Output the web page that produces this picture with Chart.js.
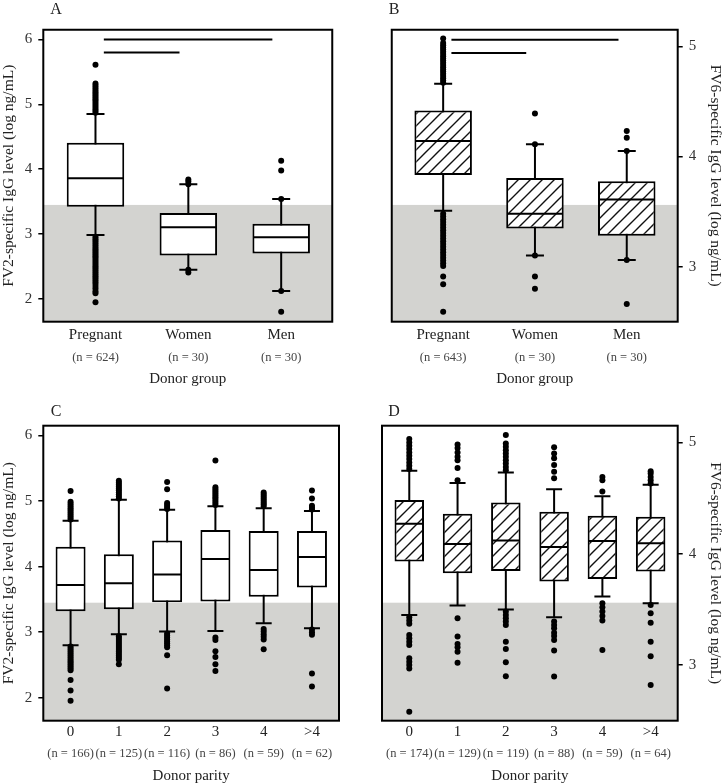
<!DOCTYPE html>
<html>
<head>
<meta charset="utf-8">
<script src="https://cdn.jsdelivr.net/npm/chart.js@4.4.1/dist/chart.umd.min.js"></script>
<style>
  body { margin: 0; background: #fff; }
  #wrap { position: relative; width: 724px; height: 784px; }
  canvas { position: absolute; }
</style>
</head>
<body>
<div id="wrap">
  <canvas id="panelA" width="362" height="392" style="left:0;top:0"></canvas>
  <canvas id="panelB" width="362" height="392" style="left:362px;top:0"></canvas>
  <canvas id="panelC" width="362" height="385" style="left:0;top:399px"></canvas>
  <canvas id="panelD" width="362" height="385" style="left:362px;top:399px"></canvas>
</div>
<script>
// categories and tick labels
const donorGroups = ['Pregnant', 'Women', 'Men'];
const fv2GroupN = ['(n = 624)', '(n = 30)', '(n = 30)'];
const fv6GroupN = ['(n = 643)', '(n = 30)', '(n = 30)'];
const parityGroups = ['0', '1', '2', '3', '4', '>4'];
const fv2ParityN = ['(n = 166)', '(n = 125)', '(n = 116)', '(n = 86)', '(n = 59)', '(n = 62)'];
const fv6ParityN = ['(n = 174)', '(n = 129)', '(n = 119)', '(n = 88)', '(n = 59)', '(n = 64)'];
const fv2Ticks = [2, 3, 4, 5, 6];
const fv6Ticks = [3, 4, 5];

// positivity cut-offs (grey area below)
const fv2Cutoff = 3.45;
const fv6Cutoff = 3.56;

// box stats: [lower whisker, q1, median, q3, upper whisker]
const fv2GroupBoxes = [
  [2.985, 3.42, 3.86, 4.41, 4.85],
  [2.45, 2.67, 3.107, 3.325, 3.77],
  [2.125, 2.70, 2.95, 3.16, 3.54]
];
const fv6GroupBoxes = [
  [3.506, 3.832, 4.14, 4.416, 4.66],
  [3.10, 3.346, 3.48, 3.805, 4.11],
  [3.06, 3.28, 3.61, 3.775, 4.05]
];
const fv2ParityBoxes = [
  [2.80, 3.32, 3.72, 4.305, 4.70],
  [2.97, 3.35, 3.745, 4.19, 5.02],
  [3.01, 3.456, 3.88, 4.40, 4.866],
  [3.02, 3.47, 4.117, 4.56, 4.92],
  [3.136, 3.54, 3.95, 4.545, 4.89],
  [3.06, 3.68, 4.148, 4.545, 4.85]
];
const fv6ParityBoxes = [
  [3.45, 3.93, 4.27, 4.483, 4.746],
  [3.535, 3.825, 4.088, 4.36, 4.636],
  [3.50, 3.845, 4.118, 4.46, 4.73],
  [3.43, 3.75, 4.06, 4.378, 4.58],
  [3.615, 3.774, 4.115, 4.34, 4.516],
  [3.556, 3.84, 4.094, 4.333, 4.62]
];

// outlying points per box
const fv2GroupOutliers = [
  [5.61, 5.32, 5.29, 5.26, 5.23, 5.2, 5.17, 5.14, 5.11, 5.08, 5.05, 5.02, 4.99, 4.96, 4.93, 4.9, 4.87,
   2.96, 2.93, 2.9, 2.87, 2.84, 2.81, 2.78, 2.75, 2.72, 2.69, 2.66, 2.63, 2.6, 2.57, 2.54, 2.51, 2.48,
   2.45, 2.42, 2.39, 2.36, 2.33, 2.3, 2.27, 2.24, 2.2, 2.16, 2.12, 2.09, 1.95],
  [3.84, 3.81, 3.77, 2.45, 2.41],
  [4.13, 3.98, 3.54, 2.125, 1.805]
];
const fv6GroupOutliers = [
  [5.07, 5.03, 5.01, 4.99, 4.97, 4.95, 4.93, 4.91, 4.89, 4.87, 4.85, 4.83, 4.81, 4.79, 4.77, 4.75, 4.73,
   4.71, 4.69, 4.67, 3.48, 3.455, 3.43, 3.405, 3.38, 3.355, 3.33, 3.305, 3.28, 3.255, 3.23, 3.205, 3.18,
   3.155, 3.13, 3.105, 3.08, 3.055, 3.03, 3.005, 2.91, 2.84, 2.59],
  [4.39, 4.11, 3.10, 2.91, 2.80],
  [4.23, 4.17, 4.05, 3.06, 2.66]
];
const fv2ParityOutliers = [
  [5.155, 4.99, 4.96, 4.93, 4.9, 4.87, 4.84, 4.81, 4.78, 4.75, 4.72, 2.78, 2.75, 2.72, 2.69, 2.66, 2.63,
   2.6, 2.57, 2.54, 2.51, 2.48, 2.45, 2.42, 2.27, 2.11, 1.955],
  [5.31, 5.28, 5.25, 5.22, 5.19, 5.16, 5.13, 5.1, 5.07, 5.04, 2.94, 2.91, 2.88, 2.85, 2.82, 2.79, 2.76,
   2.73, 2.7, 2.67, 2.64, 2.61, 2.58, 2.51],
  [5.29, 5.18, 4.97, 4.94, 4.91, 4.88, 2.98, 2.95, 2.92, 2.89, 2.86, 2.83, 2.8, 2.77, 2.65, 2.14],
  [5.62, 5.21, 5.18, 5.15, 5.12, 5.09, 5.06, 5.03, 5.0, 4.97, 4.94, 2.92, 2.88, 2.71, 2.62, 2.51, 2.41],
  [5.13, 5.1, 5.07, 5.04, 5.01, 4.98, 4.95, 4.92, 3.05, 3.01, 2.97, 2.93, 2.89, 2.74],
  [5.16, 5.04, 4.93, 4.9, 4.87, 3.04, 3.0, 2.96, 2.37, 2.17]
];
const fv6ParityOutliers = [
  [5.03, 5.0, 4.97, 4.94, 4.91, 4.88, 4.85, 4.82, 4.79, 4.76, 3.43, 3.4, 3.37, 3.27, 3.24, 3.21, 3.18,
   3.06, 3.03, 3.0, 2.97, 2.58],
  [4.98, 4.95, 4.91, 4.87, 4.84, 4.77, 4.66, 3.42, 3.256, 3.19, 3.16, 3.12, 3.02],
  [5.066, 4.99, 4.96, 4.93, 4.9, 4.87, 4.84, 4.81, 4.78, 4.75, 3.48, 3.45, 3.42, 3.39, 3.36, 3.21,
   3.145, 3.026, 2.9],
  [4.956, 4.9, 4.857, 4.797, 4.737, 4.677, 3.39, 3.36, 3.33, 3.29, 3.26, 3.226, 3.13, 2.897],
  [4.69, 4.66, 4.56, 3.556, 3.52, 3.48, 3.44, 3.4, 3.136],
  [4.74, 4.72, 4.69, 4.66, 4.63, 3.54, 3.466, 3.38, 3.21, 3.08, 2.82]
];

// significance bars: [from category, to category, level]
const fv2GroupSig = [[0.09, 1.905, 6.0], [0.09, 0.905, 5.8]];
const fv6GroupSig = [[0.09, 1.91, 5.06], [0.09, 0.905, 4.94]];

const FONT = "'Liberation Serif', 'DejaVu Serif', serif";
Chart.defaults.font.family = FONT;
Chart.defaults.color = '#333';

function makeHatch() {
  const c = document.createElement('canvas');
  c.width = 12; c.height = 12;
  const g = c.getContext('2d');
  g.fillStyle = '#fff';
  g.fillRect(0, 0, 12, 12);
  g.strokeStyle = '#111';
  g.lineWidth = 1.4;
  g.beginPath();
  g.moveTo(-1, 13); g.lineTo(13, -1);
  g.moveTo(-1, 1); g.lineTo(1, -1);
  g.moveTo(11, 13); g.lineTo(13, 11);
  g.stroke();
  return g.createPattern(c, 'repeat');
}

const panelDecor = {
  id: 'panelDecor',
  beforeDatasetsDraw(chart, args, opts) {
    const { ctx, chartArea: a } = chart;
    const yc = chart.scales.y.getPixelForValue(opts.cutoff);
    ctx.save();
    ctx.fillStyle = '#d3d3d0';
    ctx.fillRect(a.left, yc, a.right - a.left, a.bottom - yc);
    ctx.restore();
  },
  afterDraw(chart, args, opts) {
    const { ctx, chartArea: a } = chart;
    ctx.save();
    ctx.strokeStyle = '#000';
    ctx.lineWidth = 2;
    ctx.strokeRect(a.left, a.top, a.right - a.left, a.bottom - a.top);
    ctx.fillStyle = '#222';
    ctx.font = '16px ' + FONT;
    ctx.textAlign = 'center';
    ctx.textBaseline = 'middle';
    ctx.fillText(opts.letter, opts.letterX, opts.letterY);
    ctx.restore();
  }
};

function buildPanel(p) {
  const whiskers = [], boxes = [], medians = [], caps = [], dots = [];
  p.boxes.forEach((b, i) => {
    whiskers.push({ x: i, y: b[0] }, { x: i, y: b[4] }, { x: i, y: null });
    boxes.push({ x: i, y: [b[1], b[3]] });
    medians.push({ x: i, y: b[2] });
    caps.push({ x: i, y: b[0] }, { x: i, y: b[4] });
    p.outliers[i].forEach(v => dots.push({ x: i, y: v }));
  });

  const datasets = [
    { type: 'line', data: whiskers, borderColor: '#000', borderWidth: 2, pointRadius: 0, spanGaps: false, order: 6 },
    { type: 'bar', data: boxes, backgroundColor: p.hatched ? makeHatch() : '#fff', borderColor: '#000',
      borderWidth: 2, borderSkipped: false, barThickness: p.boxWidth, inflateAmount: 0, order: 5 },
    { type: 'scatter', data: medians, pointStyle: 'line', pointRadius: p.boxWidth / 2 - 1,
      pointBorderColor: '#000', pointBorderWidth: 2, order: 4 },
    { type: 'scatter', data: caps, pointStyle: 'line', pointRadius: p.capR,
      pointBorderColor: '#000', pointBorderWidth: 2, order: 3 },
    { type: 'scatter', data: dots, pointRadius: 3, pointBackgroundColor: '#000', pointBorderWidth: 0, order: 2 }
  ];
  (p.sig || []).forEach(s => {
    datasets.push({ type: 'line', data: [{ x: s[0], y: s[2] }, { x: s[1], y: s[2] }],
      borderColor: '#000', borderWidth: 2, pointRadius: 0, order: 1 });
  });

  const catTicks = (scale) => { scale.ticks = p.labels.map((_, i) => ({ value: i })); };

  new Chart(document.getElementById(p.canvas), {
    type: 'bar',
    data: { datasets: datasets },
    plugins: [panelDecor],
    options: {
      responsive: false,
      animation: false,
      events: [],
      layout: { padding: p.pad },
      plugins: {
        legend: { display: false },
        tooltip: { enabled: false },
        panelDecor: { cutoff: p.cutoff, letter: p.letter, letterX: p.letterX, letterY: p.letterY }
      },
      scales: {
        x: {
          type: 'linear', min: p.xMin, max: p.xMax, offset: false,
          grid: { display: false, drawTicks: false, tickLength: 0 }, border: { display: false },
          afterBuildTicks: catTicks,
          afterFit: (s) => { s.height = 22; },
          ticks: { autoSkip: false, maxRotation: 0, padding: p.labelPad, color: '#222',
            font: { size: 15 }, callback: (v) => p.labels[v] }
        },
        x2: {
          type: 'linear', position: 'bottom', weight: 1, min: p.xMin, max: p.xMax, offset: false,
          grid: { display: false, drawTicks: false, tickLength: 0 }, border: { display: false },
          afterBuildTicks: catTicks,
          afterFit: (s) => { s.height = p.x2H; },
          ticks: { autoSkip: false, maxRotation: 0, padding: p.nPad, color: '#444',
            font: { size: 12.5 }, callback: (v) => p.nLabels[v] },
          title: { display: true, text: p.xTitle, color: '#222', padding: 0,
            font: { size: 15, lineHeight: 1 } }
        },
        y: {
          type: 'linear', position: p.yPos, min: p.yMin, max: p.yMax,
          afterBuildTicks: (s) => { s.ticks = p.yTicks.map(v => ({ value: v })); },
          afterFit: (s) => { s.width = p.yW; },
          grid: { drawOnChartArea: false, drawTicks: true, tickLength: 5, color: '#000', lineWidth: 1.5 },
          border: { display: false },
          ticks: { padding: 6, color: '#333', font: { size: 15 } },
          title: { display: true, text: p.yTitle, color: '#222', padding: 0, font: { size: 15.5 } }
        }
      }
    }
  });
}

const topRow = { labelPad: 4, nPad: 6.5, x2H: 42.8 };
const bottomRow = { labelPad: 2, nPad: 3.1, x2H: 40.8 };

buildPanel(Object.assign({
  canvas: 'panelA', letter: 'A', letterX: 56, letterY: 10, hatched: false,
  labels: donorGroups, nLabels: fv2GroupN, xTitle: 'Donor group', xMin: -0.562, xMax: 2.55,
  yPos: 'left', yW: 43.3, yMin: 1.65, yMax: 6.15, yTicks: fv2Ticks, yTitle: 'FV2-specific IgG level (log ng/mL)',
  boxes: fv2GroupBoxes, outliers: fv2GroupOutliers, cutoff: fv2Cutoff, sig: fv2GroupSig,
  boxWidth: 57.5, capR: 9, pad: { left: 0, right: 23, top: 26.7, bottom: 5.5 }
}, topRow));

buildPanel(Object.assign({
  canvas: 'panelB', letter: 'B', letterX: 32, letterY: 10, hatched: true,
  labels: donorGroups, nLabels: fv6GroupN, xTitle: 'Donor group', xMin: -0.56, xMax: 2.555,
  yPos: 'right', yW: 46.3, yMin: 2.5, yMax: 5.15, yTicks: fv6Ticks, yTitle: 'FV6-specific IgG level (log ng/mL)',
  boxes: fv6GroupBoxes, outliers: fv6GroupOutliers, cutoff: fv6Cutoff, sig: fv6GroupSig,
  boxWidth: 57.5, capR: 9, pad: { left: 20, right: 0, top: 26.7, bottom: 5.5 }
}, topRow));

buildPanel(Object.assign({
  canvas: 'panelC', letter: 'C', letterX: 56, letterY: 12.7, hatched: false,
  labels: parityGroups, nLabels: fv2ParityN, xTitle: 'Donor parity', xMin: -0.565, xMax: 5.56,
  yPos: 'left', yW: 43.3, yMin: 1.65, yMax: 6.15, yTicks: fv2Ticks, yTitle: 'FV2-specific IgG level (log ng/mL)',
  boxes: fv2ParityBoxes, outliers: fv2ParityOutliers, cutoff: fv2Cutoff,
  boxWidth: 30, capR: 8, pad: { left: 0, right: 23, top: 26.7, bottom: 0.5 }
}, bottomRow));

buildPanel(Object.assign({
  canvas: 'panelD', letter: 'D', letterX: 32, letterY: 12.7, hatched: true,
  labels: parityGroups, nLabels: fv6ParityN, xTitle: 'Donor parity', xMin: -0.565, xMax: 5.56,
  yPos: 'right', yW: 46.3, yMin: 2.5, yMax: 5.15, yTicks: fv6Ticks, yTitle: 'FV6-specific IgG level (log ng/mL)',
  boxes: fv6ParityBoxes, outliers: fv6ParityOutliers, cutoff: fv6Cutoff,
  boxWidth: 29.5, capR: 8, pad: { left: 20, right: 0, top: 26.7, bottom: 0.5 }
}, bottomRow));
</script>
</body>
</html>
